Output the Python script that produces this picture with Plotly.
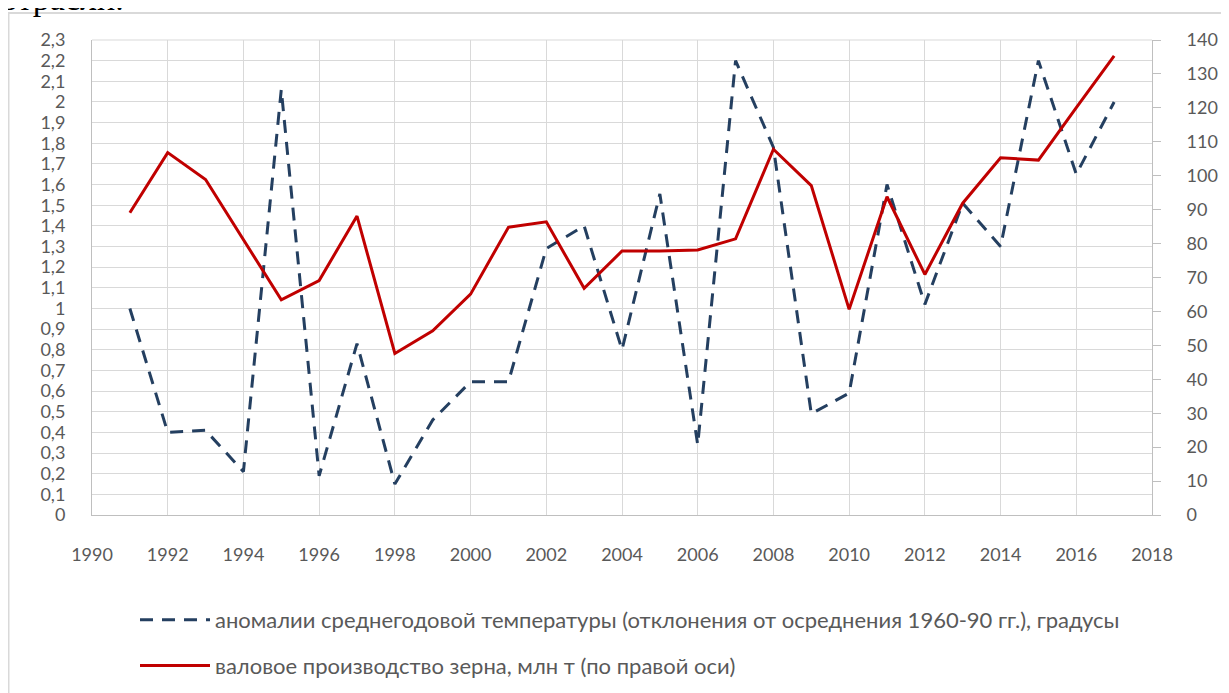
import plotly.graph_objects as go

years = list(range(1991, 2018))
temp_anomaly = [1.00, 0.40, 0.41, 0.21, 2.06, 0.19, 0.83, 0.15, 0.46, 0.645, 0.645,
                1.29, 1.40, 0.80, 1.555, 0.34, 2.20, 1.78, 0.49, 0.59, 1.60, 1.02,
                1.51, 1.30, 2.20, 1.65, 2.00]
grain = [89.1, 106.8, 98.9, 81.0, 63.4, 69.1, 88.1, 47.6, 54.3, 65.1, 84.8,
         86.4, 66.8, 77.8, 77.8, 78.1, 81.4, 107.8, 97.1, 60.6, 93.8, 70.9,
         91.9, 105.3, 104.6, 120.1, 135.3]

left_ticks = [round(i * 0.1, 1) for i in range(24)]
left_labels = [("%g" % v).replace(".", ",") for v in left_ticks]
right_ticks = list(range(0, 141, 10))
x_ticks = list(range(1990, 2019, 2))

name_temp = "аномалии среднегодовой температуры (отклонения от осреднения 1960-90 гг.), градусы"
name_grain = "валовое производство зерна, млн т (по правой оси)"
top_text = "отрасли."

# page body has an 8px default margin; figure sized to fit the window exactly
W, H = 1221, 685
L, R, T, B = 84, 1144, 32, 507
pw, ph = R - L, B - T

def px(x):
    return (x - L) / pw

def py(y):
    return (B - y) / ph

fig = go.Figure()
fig.add_trace(go.Scatter(
    x=years, y=temp_anomaly, mode="lines", name=name_temp,
    line=dict(color="#243F60", width=3, dash="13px,9px"),
    legendgroup="a", yaxis="y"))
fig.add_trace(go.Scatter(
    x=years, y=grain, mode="lines", name=name_grain,
    line=dict(color="#C00000", width=3),
    legendgroup="b", yaxis="y2"))

tick_font = dict(family="Lato, Carlito, sans-serif", size=18, color="#595959")

fig.update_layout(
    width=W, height=H,
    margin=dict(l=L, r=W - R, t=T, b=H - B, pad=0, autoexpand=False),
    paper_bgcolor="white", plot_bgcolor="white",
    showlegend=True,
    legend=dict(
        x=127 / W, y=1 - 591 / H, xref="container", yref="container",
        xanchor="left", yanchor="top",
        font=dict(family="Lato, Carlito, sans-serif", size=22, color="#595959"),
        itemwidth=70, tracegroupgap=14, bgcolor="rgba(0,0,0,0)",
    ),
    xaxis=dict(
        range=[1990, 2018], tickvals=x_ticks, ticktext=[str(v) for v in x_ticks],
        showgrid=True, gridcolor="#D9D9D9", gridwidth=1, automargin=False,
        showline=True, linecolor="#BFBFBF", linewidth=1, mirror=False,
        ticks="", tickfont=tick_font, ticklabelstandoff=23, zeroline=False,
    ),
    yaxis=dict(
        range=[0, 2.3], tickvals=left_ticks, ticktext=left_labels,
        showgrid=True, gridcolor="#D9D9D9", gridwidth=1, automargin=False,
        showline=True, linecolor="#BFBFBF", linewidth=1,
        ticks="", tickfont=tick_font, ticklabelstandoff=22, zeroline=False,
    ),
    yaxis2=dict(
        range=[0, 140], tickvals=right_ticks, ticktext=[str(v) for v in right_ticks],
        overlaying="y", side="right", showgrid=False, automargin=False,
        showline=True, linecolor="#BFBFBF", linewidth=1,
        ticks="outside", ticklen=8, tickcolor="#BFBFBF",
        tickfont=tick_font, ticklabelstandoff=22, zeroline=False,
    ),
    shapes=[
        dict(type="line", xref="paper", yref="paper", x0=px(0.5), x1=px(0.5),
             y0=py(5), y1=py(700), line=dict(color="#D9D9D9", width=2)),
        dict(type="line", xref="paper", yref="paper", x0=px(0), x1=px(1240),
             y0=py(5), y1=py(5), line=dict(color="#D9D9D9", width=2)),
        dict(type="line", xref="paper", yref="paper", x0=0, x1=1,
             y0=1, y1=1, line=dict(color="#D9D9D9", width=1)),
    ],
    annotations=[
        dict(text=top_text, xref="paper", yref="paper", x=px(-9), y=py(11),
             xanchor="left", yanchor="bottom", showarrow=False,
             font=dict(family="Liberation Serif, serif", size=34, color="black")),
    ],
)

fig.write_html("out.html")
